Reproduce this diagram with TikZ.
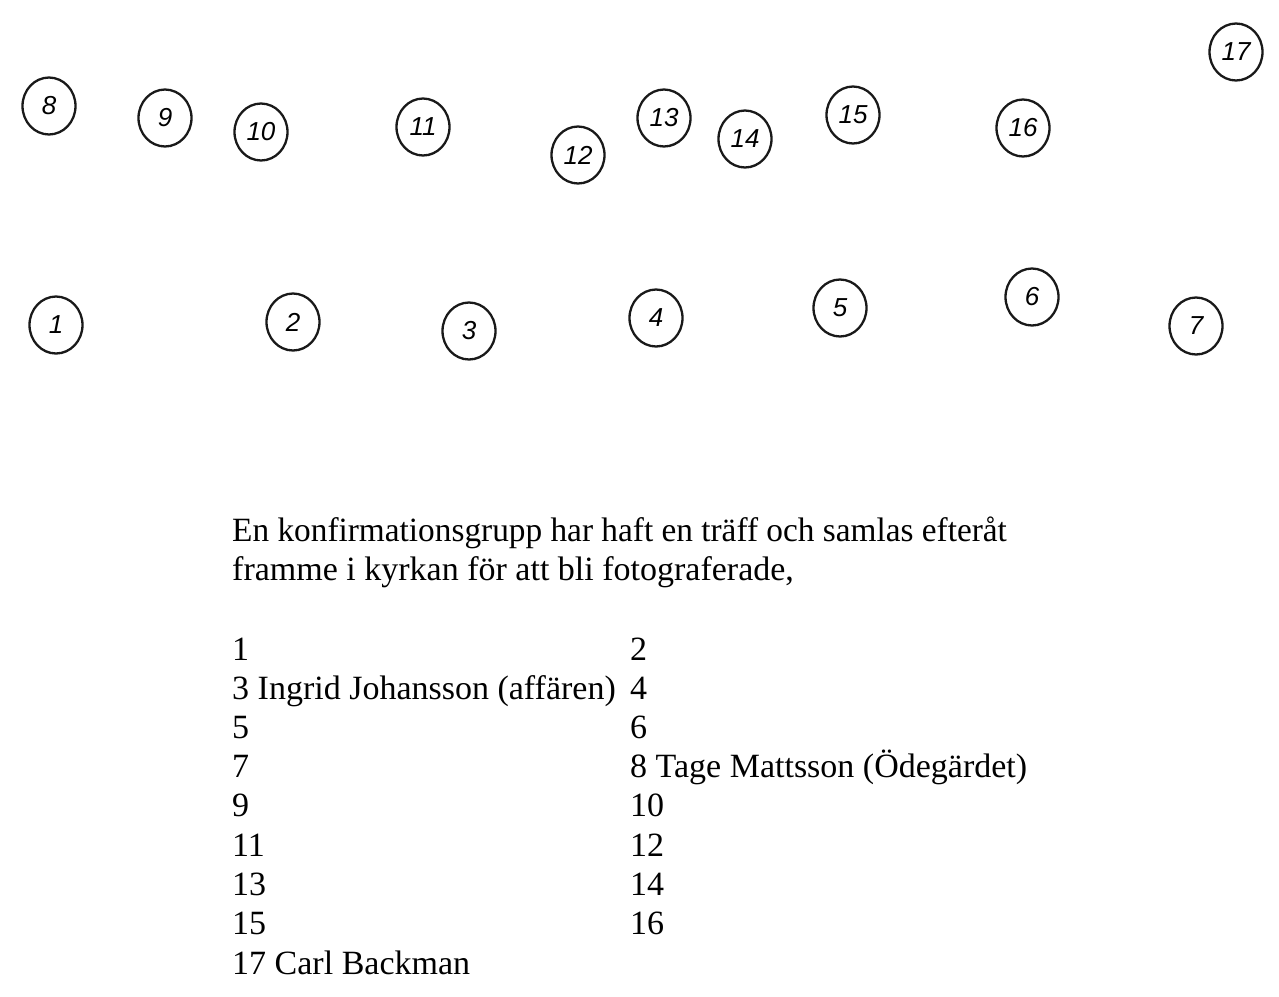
\documentclass[tikz,border=0pt]{standalone}
\usepackage{fontspec}
\usetikzlibrary{shapes.geometric}
\setmainfont{Liberation Serif}
\newfontfamily\handfont{Liberation Sans}
\begin{document}
\begin{tikzpicture}[x=1pt,y=-1pt,
  pers/.style={draw=black!90, line width=2.3pt, ellipse, minimum width=53pt, minimum height=57pt, inner sep=0pt,
    font=\handfont\itshape\fontsize{26}{26}\selectfont},
  txt/.style={anchor=base west, inner sep=0pt, font=\fontsize{34}{34}\selectfont}]
\useasboundingbox (0,0) rectangle (1279,996);
\fill[white] (0,0) rectangle (1279,996);
% top row
\node[pers] (p8)  at (49,106)  {8};
\node[pers] (p9)  at (165,118) {9};
\node[pers] (p10) at (261,132) {10};
\node[pers] (p11) at (423,127) {11};
\node[pers] (p12) at (578,155) {12};
\node[pers] (p13) at (664,118) {13};
\node[pers] (p14) at (745,139) {14};
\node[pers] (p15) at (853,115) {15};
\node[pers] (p16) at (1023,128) {16};
\node[pers] (p17) at (1236,52) {17};
% bottom row
\node[pers] (p1) at (56,325)  {1};
\node[pers] (p2) at (293,322) {2};
\node[pers] (p3) at (469,331) {3};
\node[pers] (p4) at (656,318) {4};
\node[pers] (p5) at (840,308) {5};
\node[pers] (p6) at (1032,297) {6};
\node[pers] (p7) at (1196,326) {7};
% text
\node[txt] (t1) at (232,541) {\scalebox{0.98}[1]{En konfirmationsgrupp har haft en träff och samlas efteråt}};
\node[txt] (t2) at (232,580) {framme i kyrkan för att bli fotograferade,};
\node[txt] (a1)  at (232,660) {1};
\node[txt] (a3)  at (232,699) {3 Ingrid Johansson (affären)};
\node[txt] (a5)  at (232,738) {5};
\node[txt] (a7)  at (232,777) {7};
\node[txt] (a9)  at (232,816) {9};
\node[txt] (a11) at (232,856) {11};
\node[txt] (a13) at (232,895) {13};
\node[txt] (a15) at (232,934) {15};
\node[txt] (a17) at (232,974) {17 Carl Backman};
\node[txt] (b2)  at (630,660) {2};
\node[txt] (b4)  at (630,699) {4};
\node[txt] (b6)  at (630,738) {6};
\node[txt] (b8)  at (630,777) {8 Tage Mattsson (Ödegärdet)};
\node[txt] (b10) at (630,816) {10};
\node[txt] (b12) at (630,856) {12};
\node[txt] (b14) at (630,895) {14};
\node[txt] (b16) at (630,934) {16};
\end{tikzpicture}
\end{document}
